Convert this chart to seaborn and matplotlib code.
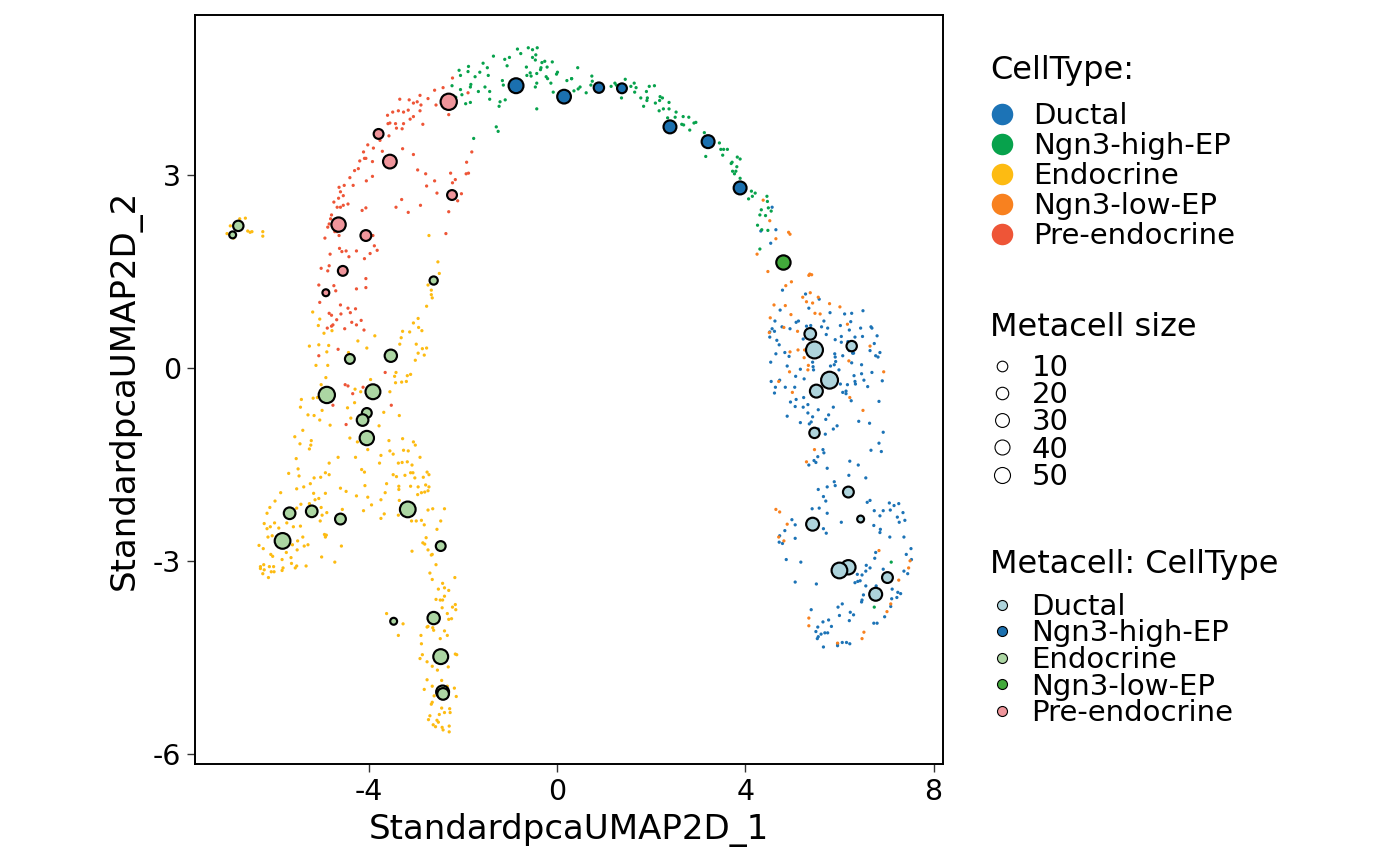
import numpy as np
import pandas as pd
import matplotlib
matplotlib.use("Agg")
import matplotlib.pyplot as plt
import seaborn as sns
from matplotlib.lines import Line2D

# ---------------- data ----------------
celltypes = ["Ductal", "Ngn3-high-EP", "Endocrine", "Ngn3-low-EP", "Pre-endocrine"]
cell_colors = ["#1C73B6", "#07A24C", "#FDBB12", "#F8811F", "#EE5537"]
meta_colors = ["#AED4DC", "#1B70AF", "#ACD6A3", "#42AA3B", "#EF959B"]
size_breaks = [10, 20, 30, 40, 50]
x_ticks = [-4, 0, 4, 8]
y_ticks = [-6, -3, 0, 3]

ngn3_high_cells = [
    (-0.84, 4.96), (-0.61, 4.98), (-0.52, 4.95), (-0.42, 4.98), (-0.77, 4.89), (-0.52, 4.83),
    (-0.45, 4.87), (-0.46, 4.79), (-0.32, 4.75), (-0.26, 4.77), (-0.10, 4.76), (-0.34, 4.67),
    (-0.21, 4.68), (-0.35, 4.64), (-0.65, 4.68), (-1.35, 4.85), (-1.11, 4.80), (-1.01, 4.83),
    (-1.06, 4.70), (-1.57, 4.74), (-1.48, 4.67), (-1.88, 4.69), (-2.08, 4.63), (-2.05, 4.55),
    (-1.89, 4.61), (-1.74, 4.53), (-1.64, 4.60), (-1.46, 4.55), (-0.57, 4.59), (-0.43, 4.58),
    (-0.64, 4.55), (-0.55, 4.54), (-0.23, 4.53), (-0.20, 4.50), (-0.01, 4.57), (0.01, 4.60),
    (-0.13, 4.43), (-0.43, 4.43), (-0.46, 4.37), (0.31, 4.50), (-1.16, 4.47), (-1.14, 4.40),
    (-1.83, 4.41), (-1.84, 4.37), (-2.05, 4.33), (-2.23, 4.39), (-2.02, 4.25), (-2.15, 4.21),
    (-1.67, 4.30), (-1.53, 4.37), (-1.43, 4.30), (-1.43, 4.18), (-1.21, 4.14), (-1.10, 4.17),
    (-1.23, 4.07), (-0.43, 4.03), (-1.94, 4.11), (-1.84, 4.13), (-0.08, 4.29), (-1.29, 3.75),
    (-1.25, 3.68), (-1.77, 3.57),
    (0.44, 4.67), (0.21, 4.47), (0.31, 4.50), (0.74, 4.54), (0.75, 4.46), (0.36, 4.31),
    (0.45, 4.34), (0.49, 4.37), (0.62, 4.28), (0.72, 4.40), (1.15, 4.38), (1.23, 4.43),
    (1.26, 4.40), (1.45, 4.49), (1.64, 4.43), (1.57, 4.38), (1.68, 4.36), (1.65, 4.29),
    (1.37, 4.20), (1.96, 4.38), (2.07, 4.39), (1.90, 4.30), (1.78, 4.20), (1.92, 4.20),
    (1.91, 4.16), (1.84, 4.07), (2.19, 4.22), (2.24, 4.20), (2.18, 4.16), (2.38, 4.13),
    (2.09, 4.12), (2.17, 4.00), (2.26, 4.03), (2.38, 4.03), (2.53, 3.98), (2.35, 3.89),
    (2.51, 3.90), (2.68, 3.91), (2.80, 3.90), (2.65, 3.79), (2.69, 3.78), (2.91, 3.81),
    (2.95, 3.82), (2.82, 3.70), (3.13, 3.66), (3.45, 3.50), (3.48, 3.40), (3.54, 3.40),
    (3.62, 3.40), (3.52, 3.31), (3.16, 3.29), (3.70, 3.18), (3.72, 3.20), (3.83, 3.28),
    (3.89, 3.25), (3.82, 3.13), (3.73, 3.06), (3.77, 3.02), (3.80, 3.06), (3.89, 2.95),
    (4.13, 2.75), (4.21, 2.72), (4.15, 2.67), (4.07, 2.63), (4.46, 2.67), (4.47, 2.59),
    (4.49, 2.49), (4.34, 2.46), (4.55, 2.44), (4.31, 2.38), (4.43, 2.37), (4.26, 2.22),
    (4.35, 2.15), (4.48, 2.14), (4.31, 1.85),
    (7.10, -3.02), (6.74, -3.72),
]

ngn3_low_cells = [
    (4.38, 2.61), (4.52, 2.29), (4.92, 2.11), (4.95, 2.08), (4.65, 2.01), (4.25, 1.77),
    (4.48, 1.50), (5.37, 1.46),
    (5.35, 1.44), (5.41, 1.45), (4.98, 1.34), (4.86, 1.28), (5.38, 1.17), (5.22, 1.10),
    (5.30, 1.03), (5.43, 1.01), (5.55, 1.10), (5.79, 1.00), (6.01, 0.95), (4.61, 0.98),
    (4.85, 0.97), (5.48, 0.85), (5.59, 0.84), (4.97, 0.83), (4.51, 0.55), (4.82, 0.63),
    (4.53, 0.78), (5.11, 0.57), (4.95, 0.25), (5.12, 0.28), (5.26, 0.28), (5.25, 0.16),
    (5.34, 0.04), (5.33, -0.03), (4.94, -0.06), (4.71, -0.21), (5.00, -0.38), (6.17, 0.68),
    (6.20, 0.11), (6.65, 0.34), (6.94, -0.06), (6.22, -0.46), (6.50, -0.66), (5.47, -1.27),
    (5.30, -1.46),
    (4.65, -2.20), (4.73, -2.24), (4.89, -2.43), (4.71, -2.63), (4.82, -2.69), (6.84, -2.84),
    (7.50, -3.00), (7.47, -3.11), (7.26, -3.30), (7.09, -3.67), (7.01, -3.79), (6.52, -4.11),
    (6.48, -4.21), (5.35, -3.89), (5.35, -4.01), (5.96, -4.28),
]

ductal_cells = [
    (4.57, 2.50), (4.65, 2.15), (4.33, 2.13), (4.54, 1.94),
    (4.79, 1.21), (5.28, 1.15), (5.57, 1.07), (5.35, 0.93), (4.74, 0.90), (5.80, 0.86),
    (6.11, 0.84), (6.26, 0.85), (6.50, 0.89), (4.63, 0.73), (4.57, 0.61), (4.52, 0.56),
    (4.62, 0.57), (4.78, 0.64), (4.95, 0.61), (5.08, 0.71), (5.13, 0.73), (5.30, 0.65),
    (5.39, 0.66), (5.62, 0.64), (5.67, 0.73), (5.75, 0.62), (5.72, 0.52), (6.02, 0.66),
    (6.24, 0.72), (6.21, 0.59), (6.04, 0.49), (5.91, 0.44), (6.04, 0.40), (6.18, 0.41),
    (6.33, 0.48), (6.45, 0.62), (6.49, 0.49), (6.67, 0.64), (6.69, 0.62), (6.80, 0.50),
    (6.74, 0.38), (6.65, 0.27), (4.67, 0.43), (4.72, 0.36), (4.52, 0.48), (5.23, 0.45),
    (4.65, 0.22), (4.84, 0.24), (4.93, 0.18), (4.89, 0.03), (4.54, 0.09), (5.17, -0.02),
    (5.07, -0.13), (5.25, -0.17), (4.73, -0.19), (4.55, -0.21), (4.64, -0.30), (4.85, -0.30),
    (5.05, -0.30), (4.62, -0.39), (4.96, -0.53), (5.08, -0.49), (5.06, -0.60), (5.24, -0.46),
    (5.23, -0.61), (5.33, -0.57), (5.43, -0.76), (5.33, -0.70), (5.55, -0.65), (4.89, -0.75),
    (5.17, -0.85), (5.36, -0.87), (5.40, -0.84), (5.71, -0.80), (5.77, -0.73), (5.55, -0.95),
    (5.70, -1.03), (5.87, -0.95), (5.95, -0.90), (5.87, -0.61), (5.99, -0.03), (5.92, 0.10),
    (5.81, 0.03), (5.89, 0.05), (5.91, 0.17), (6.07, 0.19), (6.28, 0.23), (6.26, 0.08),
    (6.33, -0.21), (6.34, -0.25), (6.31, -0.12), (6.17, -0.26), (6.47, -0.09), (6.47, 0.05),
    (6.52, -0.19), (6.60, -0.29), (6.69, -0.07), (6.77, 0.19), (6.82, 0.17), (6.86, 0.24),
    (6.91, -0.20), (6.84, -0.52), (6.93, -1.00), (6.84, -1.17), (6.67, -1.28), (6.89, -1.30),
    (6.40, -1.51), (6.22, -1.45), (5.74, -1.56), (5.65, -1.27), (5.67, -1.32), (5.54, -1.38),
    (5.50, -1.47), (5.46, -1.44), (5.35, -1.51), (5.43, 0.09), (5.37, 0.20), (5.44, 0.02),
    (5.45, -0.03), (6.02, -0.25), (6.07, -0.38), (6.14, -0.40), (6.25, -0.51), (6.41, -0.83),
    (6.64, -0.86), (5.90, 0.22), (6.21, 0.27), (6.14, -0.36), (6.30, 0.23),
    (6.56, -1.71), (6.20, -1.67), (5.89, -1.77), (5.91, -1.83), (5.74, -1.85), (5.55, -1.89),
    (5.66, -2.00), (5.71, -2.07), (5.42, -2.19), (5.57, -2.18), (5.74, -2.26), (4.99, -2.36),
    (5.06, -2.44), (4.84, -2.53), (4.73, -2.61), (4.72, -2.71), (4.79, -2.73), (5.06, -2.65),
    (5.66, -2.50), (5.72, -2.57), (6.04, -2.40), (6.65, -2.06), (6.59, -2.09), (6.74, -2.22),
    (6.93, -2.22), (6.86, -2.30), (7.06, -2.10), (7.08, -2.21), (7.16, -2.14), (7.26, -2.11),
    (7.35, -2.25), (7.23, -2.32), (7.27, -2.40), (7.39, -2.37), (6.87, -2.51), (6.73, -2.45),
    (6.86, -2.56), (7.07, -2.63), (7.37, -2.63), (4.87, -2.98), (5.18, -3.02), (5.06, -3.33),
    (5.51, -3.36), (6.77, -2.87), (6.75, -2.96), (6.65, -3.11), (6.57, -3.07), (6.56, -3.16),
    (6.48, -3.22), (6.38, -3.21), (6.44, -3.31), (6.39, -3.32), (6.33, -3.34), (6.56, -3.39),
    (6.78, -3.39), (6.93, -3.13), (7.12, -3.44), (7.24, -3.49), (7.30, -3.51), (7.22, -3.57),
    (7.11, -3.59), (6.51, -3.53), (6.48, -3.61), (6.47, -3.64), (6.06, -3.67), (5.97, -3.72),
    (6.23, -3.80), (6.30, -3.84), (6.00, -3.85), (6.21, -3.93), (6.73, -3.97), (6.80, -3.97),
    (6.96, -3.87), (7.09, -3.71), (7.37, -3.16), (7.45, -3.20), (7.42, -2.90), (7.52, -2.81),
    (7.53, -2.98), (5.40, -3.76), (5.65, -3.95), (5.77, -3.92), (5.83, -4.02), (5.54, -4.03),
    (5.50, -4.10), (5.69, -4.12), (5.61, -4.14), (5.55, -4.18), (5.53, -4.21), (5.75, -4.12),
    (6.06, -4.27), (6.15, -4.27), (6.22, -4.29), (5.96, -4.32), (5.96, -4.29), (5.66, -4.34),
]

pre_endocrine_cells = [
    (-2.22, 4.51), (-2.42, 4.36), (-2.60, 4.32), (-2.91, 4.24), (-3.14, 4.17), (-2.97, 4.14),
    (-3.05, 4.12), (-2.89, 4.09), (-3.34, 4.18), (-2.74, 4.19), (-2.57, 4.09), (-2.30, 3.94),
    (-1.89, 4.28), (-3.60, 3.93), (-3.49, 3.98), (-3.37, 4.00), (-3.26, 3.98), (-3.16, 4.01),
    (-3.05, 3.91), (-3.12, 3.87), (-2.91, 4.00), (-2.85, 3.79), (-3.59, 3.80), (-3.55, 3.81),
    (-3.43, 3.80), (-3.26, 3.80), (-3.41, 3.73), (-3.29, 3.72), (-3.57, 3.61), (-3.84, 3.60),
    (-3.76, 3.54), (-4.02, 3.47), (-3.90, 3.42), (-3.71, 3.37), (-3.28, 3.41), (-3.05, 3.32),
    (-1.81, 3.36), (-4.11, 3.36), (-4.09, 3.26), (-4.06, 3.26), (-4.19, 3.22), (-3.92, 3.21),
    (-4.22, 3.10), (-4.30, 3.07), (-4.40, 2.96), (-4.05, 2.91), (-3.92, 2.98), (-4.33, 2.84),
    (-2.96, 3.08), (-2.79, 3.02), (-2.60, 2.91), (-2.77, 2.83), (-2.55, 2.72), (-2.26, 3.03),
    (-2.16, 2.93), (-2.22, 2.88), (-1.92, 3.20), (-1.93, 3.02), (-1.88, 3.03), (-4.63, 2.81),
    (-4.52, 2.84), (-4.60, 2.74), (-4.54, 2.68), (-4.64, 2.64), (-4.74, 2.58), (-4.67, 2.50),
    (-4.60, 2.50), (-4.54, 2.53), (-4.44, 2.55), (-4.06, 2.49), (-4.14, 2.45), (-3.30, 2.62),
    (-3.42, 2.50), (-3.16, 2.42), (-2.90, 2.53), (-2.03, 2.71), (-2.11, 2.60), (-2.30, 2.43),
    (-4.81, 2.32), (-4.79, 2.38), (-4.84, 2.24), (-4.87, 2.19), (-4.72, 2.12), (-4.93, 2.02),
    (-4.67, 2.12), (-4.63, 2.06), (-3.91, 2.06), (-2.36, 2.09), (-4.82, 1.77), (-4.62, 1.86),
    (-4.57, 1.81), (-4.48, 1.82), (-4.42, 1.73), (-4.26, 1.82), (-3.97, 1.78), (-3.88, 1.90),
    (-3.82, 1.83), (-4.09, 1.70), (-4.84, 1.59), (-5.01, 1.55), (-4.87, 1.51),
    (-5.06, 1.29), (-4.74, 1.28), (-4.70, 1.20), (-4.26, 1.23), (-4.06, 1.25), (-4.06, 1.39),
    (-5.04, 1.02), (-4.60, 0.98), (-4.44, 0.93), (-4.28, 0.92), (-4.84, 0.85), (-4.79, 0.82),
    (-4.59, 0.84), (-4.39, 0.86), (-4.68, 0.75), (-4.36, 0.71), (-4.16, 0.74), (-4.76, 0.67),
    (-4.79, 0.65), (-4.88, 0.62), (-4.26, 0.67), (-4.10, 0.59), (-4.51, 0.61), (-4.65, 0.29),
    (-5.06, 0.19), (-3.65, -0.07), (-4.50, -0.26), (-4.44, -0.28), (-4.12, -0.30), (-4.34, -0.40),
    (-4.76, -0.58), (-3.52, -0.58), (-4.48, -0.88),
]

endocrine_cells = [
    (-6.74, 2.32), (-6.62, 2.33), (-6.94, 2.21), (-7.01, 2.09), (-6.87, 2.02), (-6.57, 2.13),
    (-6.52, 2.11), (-6.48, 2.12), (-6.25, 2.12), (-6.25, 2.05), (-2.72, 2.06), (-2.53, 1.65),
    (-2.50, 1.47), (-2.74, 1.29), (-2.67, 1.21), (-2.67, 1.14), (-2.65, 1.09), (-2.77, 0.96),
    (-5.19, 0.87), (-5.04, 0.76), (-5.07, 0.66), (-4.95, 0.54), (-4.78, 0.58), (-2.95, 0.77),
    (-3.05, 0.70), (-2.94, 0.63), (-2.87, 0.58), (-3.28, 0.57), (-3.13, 0.56), (-3.31, 0.47),
    (-3.87, 0.50), (-4.23, 0.42), (-4.04, 0.31), (-5.26, 0.34), (-5.06, 0.36), (-4.85, 0.35),
    (-4.89, 0.25), (-3.34, 0.37), (-2.99, 0.37), (-2.86, 0.30), (-2.77, 0.31), (-2.95, 0.23),
    (-2.82, 0.20), (-3.01, 0.12), (-5.12, 0.04), (-4.87, 0.04), (-4.43, 0.24), (-3.42, -0.07),
    (-3.45, -0.13), (-3.18, -0.12), (-3.11, -0.10), (-3.20, -0.21), (-3.30, -0.22), (-3.43, -0.23),
    (-4.91, -0.15), (-5.01, -0.26), (-3.96, -0.18), (-4.29, -0.33), (-4.17, -0.37), (-3.55, -0.37),
    (-5.43, -0.49), (-5.18, -0.47), (-5.09, -0.46), (-5.45, -0.61), (-4.99, -0.66), (-4.45, -0.62),
    (-4.30, -0.54), (-5.29, -0.73), (-5.16, -0.74), (-5.04, -0.81), (-4.38, -0.78), (-3.68, -0.69),
    (-3.35, -0.74), (-4.82, -0.89), (-3.78, -0.90), (-5.40, -0.97), (-5.57, -1.07), (-5.46, -1.18),
    (-5.22, -1.13), (-5.26, -1.26), (-5.23, -1.20), (-4.40, -1.09), (-4.24, -1.15), (-4.02, -1.27),
    (-3.57, -1.13), (-3.28, -1.10), (-3.26, -1.28), (-3.05, -1.15), (-3.01, -1.20), (-3.16, -1.29),
    (-3.48, -1.34), (-3.74, -1.36), (-3.55, -1.29), (-4.65, -1.39), (-4.28, -1.39), (-5.54, -1.41),
    (-4.84, -1.48), (-5.50, -1.57), (-5.70, -1.64), (-5.02, -1.70), (-4.92, -1.63), (-4.84, -1.66),
    (-5.48, -1.68), (-5.16, -1.71), (-5.24, -1.80), (-5.38, -1.85), (-5.53, -1.88), (-4.15, -1.58),
    (-4.09, -1.62), (-4.08, -1.83), (-3.77, -1.48), (-3.37, -1.48), (-3.29, -1.47), (-3.18, -1.46),
    (-3.08, -1.51), (-2.91, -1.39), (-3.48, -1.66), (-3.41, -1.69), (-3.23, -1.67), (-3.11, -1.63),
    (-3.06, -1.63), (-3.02, -1.71), (-2.84, -1.70), (-2.76, -1.62), (-2.72, -1.66), (-3.62, -1.80),
    (-3.65, -1.94), (-3.36, -1.84), (-3.36, -1.89), (-3.11, -1.84), (-2.95, -1.85), (-2.79, -1.82),
    (-2.72, -1.85), (-2.74, -1.91), (-2.81, -1.93), (-2.88, -1.94), (-2.96, -1.97), (-5.87, -1.94),
    (-5.17, -1.95), (-4.92, -1.95), (-4.60, -1.87), (-4.48, -1.92), (-5.06, -2.03), (-5.14, -2.05),
    (-4.26, -1.99), (-4.02, -2.01), (-3.74, -2.05), (-3.35, -2.06), (-5.99, -2.07), (-6.10, -2.17),
    (-6.16, -2.26), (-5.53, -2.18), (-5.44, -2.12), (-4.89, -2.25), (-4.11, -2.22), (-3.94, -2.13),
    (-3.67, -2.27), (-2.74, -2.21), (-2.64, -2.19), (-2.39, -2.19), (-3.74, -2.34),
    (-5.26, -2.11), (-5.01, -2.17), (-4.99, -2.29), (-5.03, -2.38), (-4.56, -2.20), (-3.37, -2.29),
    (-3.09, -2.38), (-2.99, -2.38), (-2.88, -2.37), (-2.82, -2.44), (-2.47, -2.38), (-2.55, -2.51),
    (-6.22, -2.42), (-6.16, -2.50), (-6.09, -2.47), (-5.91, -2.49), (-6.00, -2.41), (-5.74, -2.41),
    (-5.60, -2.47), (-5.45, -2.46), (-6.14, -2.63), (-6.05, -2.61), (-6.33, -2.76), (-6.24, -2.81),
    (-6.08, -2.90), (-6.04, -2.93), (-5.93, -2.64), (-5.84, -2.66), (-5.77, -2.59), (-5.73, -2.67),
    (-5.51, -2.69), (-5.52, -2.83), (-5.40, -2.63), (-5.37, -2.77), (-5.29, -2.75), (-5.62, -2.75),
    (-5.75, -2.87), (-5.84, -2.98), (-5.65, -2.95), (-5.56, -3.11), (-5.53, -3.08), (-5.33, -3.08),
    (-5.64, -3.04), (-6.30, -3.09), (-6.23, -3.06), (-6.22, -3.14), (-6.30, -3.12), (-6.25, -3.20),
    (-6.11, -3.09), (-6.02, -3.09), (-6.07, -3.17), (-6.01, -3.17), (-5.82, -3.11), (-5.84, -3.15),
    (-6.13, -3.26), (-4.94, -2.59), (-4.92, -2.63), (-4.90, -2.60), (-4.58, -2.77), (-5.00, -2.94),
    (-4.72, -3.02), (-3.08, -2.85), (-2.78, -2.64), (-2.85, -2.72), (-2.81, -2.74), (-2.74, -2.83),
    (-2.65, -2.90), (-2.67, -2.91), (-2.57, -3.06), (-2.70, -3.19), (-2.65, -3.29), (-2.43, -3.35),
    (-2.39, -3.42), (-2.52, -3.44), (-2.30, -3.46), (-2.57, -3.60), (-2.48, -3.61), (-2.43, -3.61),
    (-2.39, -3.55), (-2.17, -3.26), (-2.44, -3.73), (-2.16, -3.68), (-2.22, -3.72), (-2.15, -3.76),
    (-2.33, -3.82), (-2.24, -3.90), (-2.30, -3.91), (-3.62, -3.82), (-3.27, -3.98), (-3.37, -4.16),
    (-2.89, -4.16), (-2.76, -4.03), (-2.74, -4.02), (-2.64, -4.04), (-2.62, -4.08), (-2.39, -4.09),
    (-2.33, -4.16), (-2.48, -4.21), (-2.88, -4.29), (-2.86, -4.46), (-2.91, -4.52), (-2.76, -4.57),
    (-2.65, -4.64), (-2.54, -4.70), (-2.31, -4.65), (-2.16, -4.45), (-2.13, -4.46), (-2.76, -4.85),
    (-2.65, -4.95), (-2.45, -4.86), (-2.33, -4.95), (-2.18, -4.98), (-2.14, -5.11), (-2.82, -5.00),
    (-2.61, -5.10), (-2.65, -5.20), (-2.67, -5.23), (-2.45, -5.29), (-2.28, -5.30), (-2.27, -5.36),
    (-2.39, -5.36), (-2.50, -5.39), (-2.70, -5.41), (-2.73, -5.47), (-2.55, -5.48), (-2.52, -5.51),
    (-2.63, -5.55), (-2.58, -5.58), (-2.44, -5.59), (-2.42, -5.63), (-2.29, -5.57), (-2.29, -5.66),
]

# metacells: (x, y, number of cells)
meta_ductal = [
    (5.38, 0.53, 15), (5.47, 0.28, 60), (6.26, 0.34, 9), (5.79, -0.19, 60), (5.51, -0.36, 23),
    (5.47, -1.01, 9), (6.19, -1.93, 11), (6.45, -2.35, 2), (5.43, -2.43, 23), (6.19, -3.10, 34),
    (6.00, -3.15, 47), (7.02, -3.26, 11), (6.77, -3.52, 23),
]
meta_ngn3_high = [
    (-0.87, 4.39, 39), (0.15, 4.22, 29), (0.89, 4.36, 9), (1.38, 4.35, 7), (2.40, 3.75, 23),
    (3.21, 3.52, 23), (3.89, 2.80, 23),
]
meta_endocrine = [
    (-6.77, 2.21, 9), (-6.89, 2.07, 2), (-2.62, 1.36, 3), (-4.40, 0.14, 7), (-3.53, 0.19, 19),
    (-4.89, -0.42, 53), (-3.91, -0.37, 39), (-4.04, -0.70, 7), (-4.13, -0.81, 15), (-4.04, -1.09, 34),
    (-3.17, -2.20, 47), (-4.60, -2.35, 11), (-5.21, -2.23, 15), (-5.68, -2.26, 15), (-5.83, -2.69, 47),
    (-2.47, -2.77, 7), (-3.47, -3.94, 2), (-2.62, -3.89, 19), (-2.47, -4.49, 39), (-2.43, -5.04, 23),
    (-2.42, -5.07, 15),
]
meta_ngn3_low = [(4.81, 1.64, 34)]
meta_pre_endocrine = [
    (-2.30, 4.14, 53), (-3.79, 3.64, 7), (-3.55, 3.21, 29), (-2.23, 2.69, 7), (-4.64, 2.23, 34),
    (-4.06, 2.06, 11), (-4.55, 1.51, 7), (-4.91, 1.17, 2),
]

# ---------------- tables ----------------
cell_groups = {
    "Ductal": ductal_cells, "Ngn3-high-EP": ngn3_high_cells, "Endocrine": endocrine_cells,
    "Ngn3-low-EP": ngn3_low_cells, "Pre-endocrine": pre_endocrine_cells,
}
cell_df = pd.concat(
    [pd.DataFrame(v, columns=["x", "y"]).assign(CellType=k) for k, v in cell_groups.items()],
    ignore_index=True,
)
meta_groups = {
    "Ductal": meta_ductal, "Ngn3-high-EP": meta_ngn3_high, "Endocrine": meta_endocrine,
    "Ngn3-low-EP": meta_ngn3_low, "Pre-endocrine": meta_pre_endocrine,
}
meta_df = pd.concat(
    [pd.DataFrame(v, columns=["x", "y", "n"]).assign(CellType=k) for k, v in meta_groups.items()],
    ignore_index=True,
)

PX_PER_PT = 100 / 72.0
N_MIN, N_MAX = 2, 60


def diam_px(n):
    frac = max(n - N_MIN, 0) / (N_MAX - N_MIN)
    return 6.9 + 10.0 * np.sqrt(frac)


def area_pt2(n):
    return (diam_px(n) / PX_PER_PT) ** 2


# ---------------- plot ----------------
sns.set_theme(style="white")
plt.rcParams["font.family"] = ["DejaVu Sans"]
plt.rcParams["axes.unicode_minus"] = False
plt.rcParams["text.color"] = "black"
plt.rcParams["axes.labelcolor"] = "black"
plt.rcParams["xtick.color"] = "black"
plt.rcParams["ytick.color"] = "black"

fig = plt.figure(figsize=(14, 8.66), dpi=100)
ax = fig.add_axes([195 / 1400, 1 - 764 / 866, (943 - 195) / 1400, (764 - 15) / 866])

cell_pal = dict(zip(celltypes, cell_colors))
meta_pal = dict(zip(celltypes, meta_colors))

sns.scatterplot(data=cell_df, x="x", y="y", hue="CellType", palette=cell_pal,
                s=5.5, linewidth=0, legend=False, ax=ax, zorder=2)
sns.scatterplot(data=meta_df, x="x", y="y", hue="CellType", palette=meta_pal,
                size="n", sizes={n: area_pt2(n) for n in meta_df["n"].unique()},
                edgecolor="black", linewidth=1.55, legend=False, ax=ax, zorder=3)

ax.set_xlim(-7.69, 8.20)
ax.set_ylim(-6.16, 5.49)
ax.set_xticks(x_ticks)
ax.set_yticks(y_ticks)
ax.set_xticklabels([str(t) for t in x_ticks])
ax.set_yticklabels([str(t) for t in y_ticks])
ax.tick_params(bottom=True, left=True, direction="out", length=6, width=1.0,
               color="#333333", labelsize=20.5, labelcolor="black", pad=4)
for sp in ax.spines.values():
    sp.set_visible(True)
    sp.set_color("black")
    sp.set_linewidth(1.4)
ax.set_xlabel("StandardpcaUMAP2D_1", fontsize=24.5, color="black", labelpad=5)
ax.set_ylabel("StandardpcaUMAP2D_2", fontsize=24.5, color="black", labelpad=8)
ax.grid(False)

# ---------------- legends ----------------
lx = 990 / 1400
title_fs = 23
label_fs = 21

fig.text(lx, 1 - 70 / 866, "CellType:", fontsize=title_fs, va="center", ha="left")
h1 = [Line2D([], [], linestyle="none", marker="o", markersize=15.5, markerfacecolor=c,
             markeredgewidth=0) for c in cell_colors]
leg1 = fig.legend(h1, celltypes, loc="center left", bbox_to_anchor=(lx, 1 - 176 / 866),
                  frameon=False, fontsize=label_fs, borderpad=0, borderaxespad=0,
                  handlelength=0.85, handletextpad=0.62, labelspacing=0.07)

fig.text(lx, 1 - 327 / 866, "Metacell size", fontsize=title_fs, va="center", ha="left")
h2 = [Line2D([], [], linestyle="none", marker="o", markersize=diam_px(b) / PX_PER_PT,
             markerfacecolor="none", markeredgecolor="black", markeredgewidth=0.8)
      for b in size_breaks]
leg2 = fig.legend(h2, [str(b) for b in size_breaks], loc="center left",
                  bbox_to_anchor=(lx, 1 - 422.5 / 866), frameon=False, fontsize=label_fs,
                  borderpad=0, borderaxespad=0, handlelength=0.8, handletextpad=0.62,
                  labelspacing=-0.03)

fig.text(lx, 1 - 564 / 866, "Metacell: CellType", fontsize=title_fs, va="center", ha="left")
h3 = [Line2D([], [], linestyle="none", marker="o", markersize=7.2, markerfacecolor=c,
             markeredgecolor="black", markeredgewidth=0.8) for c in meta_colors]
leg3 = fig.legend(h3, celltypes, loc="center left", bbox_to_anchor=(lx, 1 - 660 / 866),
                  frameon=False, fontsize=label_fs, borderpad=0, borderaxespad=0,
                  handlelength=0.8, handletextpad=0.62, labelspacing=-0.05)

fig.savefig("out.png", dpi=100, facecolor="white")
